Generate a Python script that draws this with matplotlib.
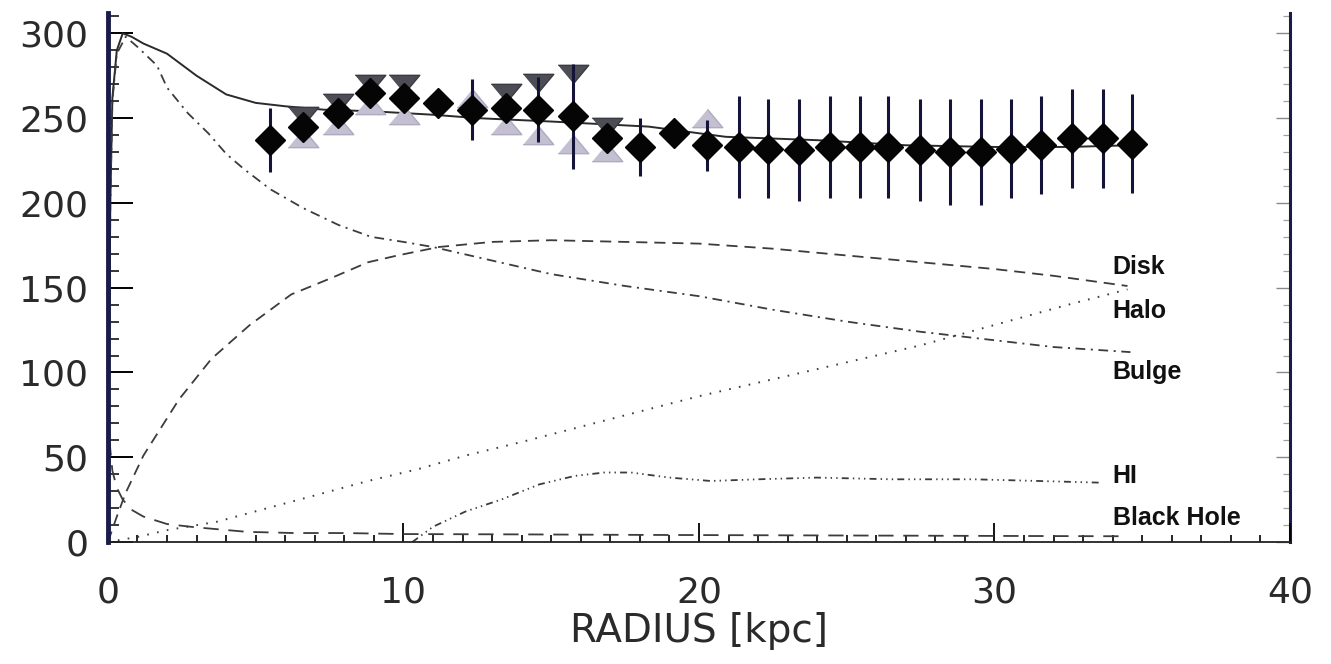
import matplotlib
matplotlib.use('Agg')
import matplotlib.pyplot as plt
import numpy as np
from matplotlib.ticker import MultipleLocator

# observed rotation velocities (diamonds with error bars)
radius = [5.48, 6.60, 7.78, 8.87, 10.02, 11.17, 12.32, 13.47, 14.55, 15.74,
          16.89, 18.00, 19.15, 20.27, 21.35, 22.34, 23.38, 24.43, 25.45, 26.40,
          27.48, 28.49, 29.54, 30.56, 31.57, 32.62, 33.67, 34.65]
velocity = [237, 245, 253, 265, 262, 259, 255, 256, 255, 251,
            238, 233, 241, 234, 233, 232, 231, 233, 233, 233,
            231, 230, 230, 232, 234, 238, 238, 235]
vel_err = [19, 5, 5, 5, 5, 5, 18, 5, 19, 31,
           5, 17, 5, 15, 30, 29, 30, 30, 30, 30,
           30, 31, 31, 29, 29, 29, 29, 29]

# other tracers in the inner part (triangles), nan = not plotted
tri_r = radius[:14]
tri_down = [np.nan, 251, 259, 270, 270, np.nan, np.nan, 265, 271, 276,
            245, np.nan, np.nan, np.nan]
tri_up = [np.nan, 238, 246, 258, 252, np.nan, 262, 246, 240, 235,
          230, np.nan, np.nan, 250]

# model curves
total_r = [0.02, 0.08, 0.15, 0.3, 0.5, 0.8, 1.2, 2.0, 3.0, 4.0, 5.0, 6.0, 7.3,
           9.0, 11.0, 12.5, 15.0, 18.3, 20.9, 24.0, 27.0, 30.0, 32.5, 34.6]
total_v = [60, 200, 262, 290, 300, 298, 294, 288, 275, 264, 259, 257, 255,
           254, 252, 250, 248, 245, 239, 237, 234, 233, 233, 234]

bulge_r = [0.02, 0.08, 0.15, 0.3, 0.6, 1.0, 1.66, 2.0, 2.7, 3.4, 4.0, 4.6, 5.5,
           6.6, 7.8, 8.9, 10.0, 11.0, 13.0, 15.0, 17.5, 20.0, 22.5, 25.0, 27.5,
           30.0, 32.0, 34.6]
bulge_v = [60, 200, 260, 288, 298, 292, 281, 268, 253, 241, 229, 220, 208,
           197, 187, 180, 177, 174, 166, 158, 151, 145, 137, 130, 124,
           119, 115, 112]

disk_r = [0, 0.3, 0.6, 1.2, 2.4, 3.5, 4.8, 6.2, 7.6, 8.8, 9.8, 11.2, 13.0,
          15.0, 17.5, 20.0, 22.5, 25.0, 27.5, 30.0, 32.0, 34.5]
disk_v = [0, 15, 29, 51, 84, 108, 128, 146, 156, 165, 169, 174, 177,
          178, 177, 176, 173, 169, 165, 161, 157, 151]

halo_r = [0, 1.0, 2.0, 3.7, 5.4, 6.9, 8.8, 10.5, 12.1, 14.0, 16.0, 18.0, 20.0,
          22.5, 25.0, 27.5, 30.0, 32.5, 34.5]
halo_v = [0, 3, 7, 12, 20, 27, 36, 43, 51, 59, 68, 77, 86,
          96, 106, 116, 128, 140, 149]

hi_r = [10.3, 11.0, 12.1, 13.3, 14.6, 15.8, 16.8, 17.7, 19.0, 20.4, 22.0,
        24.0, 26.5, 29.3, 31.5, 33.6]
hi_v = [0, 9, 18, 25, 34, 39, 41, 41, 38, 36, 37, 38, 37, 37, 36, 35]

bh_r = [0.05, 0.15, 0.3, 0.5, 0.8, 1.2, 2.0, 2.9, 4.7, 6.3, 8.0, 10, 14, 18,
        22, 26, 30, 34.5]
bh_v = [60, 42, 32, 25, 19, 15, 10.6, 8.8, 6, 5.3, 5.3, 4.7, 4.5, 4.2,
        4, 3.8, 3.6, 3.4]

labels = ['Disk', 'Halo', 'Bulge', 'HI', 'Black Hole']
label_v = [162, 136, 100, 39, 14]

plt.rcParams['lines.scale_dashes'] = False

fig = plt.figure(figsize=(13.31, 6.64), dpi=100)
ax = fig.add_axes([0.0811, 0.1837, 0.8881, 0.7967])

line_col = '#3c3c3c'
ax.plot(total_r, total_v, color='#2a2a2a', lw=1.4, zorder=2)
ax.plot(bulge_r, bulge_v, color=line_col, lw=1.3, dashes=(7, 4, 1.5, 4), zorder=2)
ax.plot(disk_r, disk_v, color=line_col, lw=1.3, dashes=(8, 5), zorder=2)
ax.plot(halo_r, halo_v, color=line_col, lw=1.4, dashes=(1.2, 6), zorder=2)
ax.plot(hi_r, hi_v, color=line_col, lw=1.3, dashes=(5, 3, 1, 3, 1, 3, 1, 3), zorder=2)
ax.plot(bh_r, bh_v, color=line_col, lw=1.3, dashes=(11, 7), zorder=2)

# triangles drawn flat, wider than tall
down_tri = [(-1, 0.6), (1, 0.6), (0, -0.6)]
up_tri = [(-1, -0.6), (1, -0.6), (0, 0.6)]
ax.plot(tri_r, tri_up, ls='none', marker=up_tri, ms=22, color='#c4c0d2',
        mec='#aeaac0', zorder=3)
ax.plot(tri_r, tri_down, ls='none', marker=down_tri, ms=22, color='#4d4d55',
        mec='#3a3a42', zorder=3)

ax.errorbar(radius, velocity, yerr=vel_err, fmt='none', ecolor='#14143a',
            elinewidth=2.2, capsize=0, zorder=4)
ax.plot(radius, velocity, ls='none', marker='D', ms=15, color='#050505', zorder=5)

for name, v in zip(labels, label_v):
    ax.text(34.0, v, name, fontsize=18, fontweight='bold', family='Liberation Sans',
            color='#111111', ha='left', va='center')

ax.set_xlim(0, 40)
ax.set_ylim(0, 312)
ax.xaxis.set_major_locator(MultipleLocator(10))
ax.xaxis.set_minor_locator(MultipleLocator(1))
ax.yaxis.set_major_locator(MultipleLocator(50))
ax.yaxis.set_minor_locator(MultipleLocator(10))

ax.tick_params(axis='x', which='major', direction='in', length=14, width=1.3,
               pad=24, labelsize=26, labelcolor='#2a2a2a', top=False)
ax.tick_params(axis='x', which='minor', direction='in', length=5, width=1.2, top=False)
ax.tick_params(axis='y', which='major', direction='in', length=18, width=1.4,
               pad=14, labelsize=26, labelcolor='#2a2a2a', right=False)
ax.tick_params(axis='y', which='minor', direction='in', length=8, width=1.1, right=False)

# right side: faint short ticks like the scan
right = ax.secondary_yaxis('right')
right.yaxis.set_major_locator(MultipleLocator(50))
right.yaxis.set_minor_locator(MultipleLocator(10))
right.tick_params(which='major', direction='in', length=10, width=1.0,
                  color='#8a8a8a', labelright=False)
right.tick_params(which='minor', direction='in', length=5, width=0.9,
                  color='#a0a0a0')
right.spines['right'].set_linewidth(2.2)
right.spines['right'].set_color('#1b1b4a')

ax.spines['top'].set_visible(False)
ax.spines['right'].set_visible(False)
ax.spines['left'].set_linewidth(3.5)
ax.spines['left'].set_color('#1b1b4a')
ax.spines['bottom'].set_linewidth(1.3)
ax.spines['bottom'].set_color('#222222')

ax.set_xlabel('RADIUS [kpc]', fontsize=28, color='#2a2a2a', labelpad=2)

fig.savefig('out.png', dpi=100)
